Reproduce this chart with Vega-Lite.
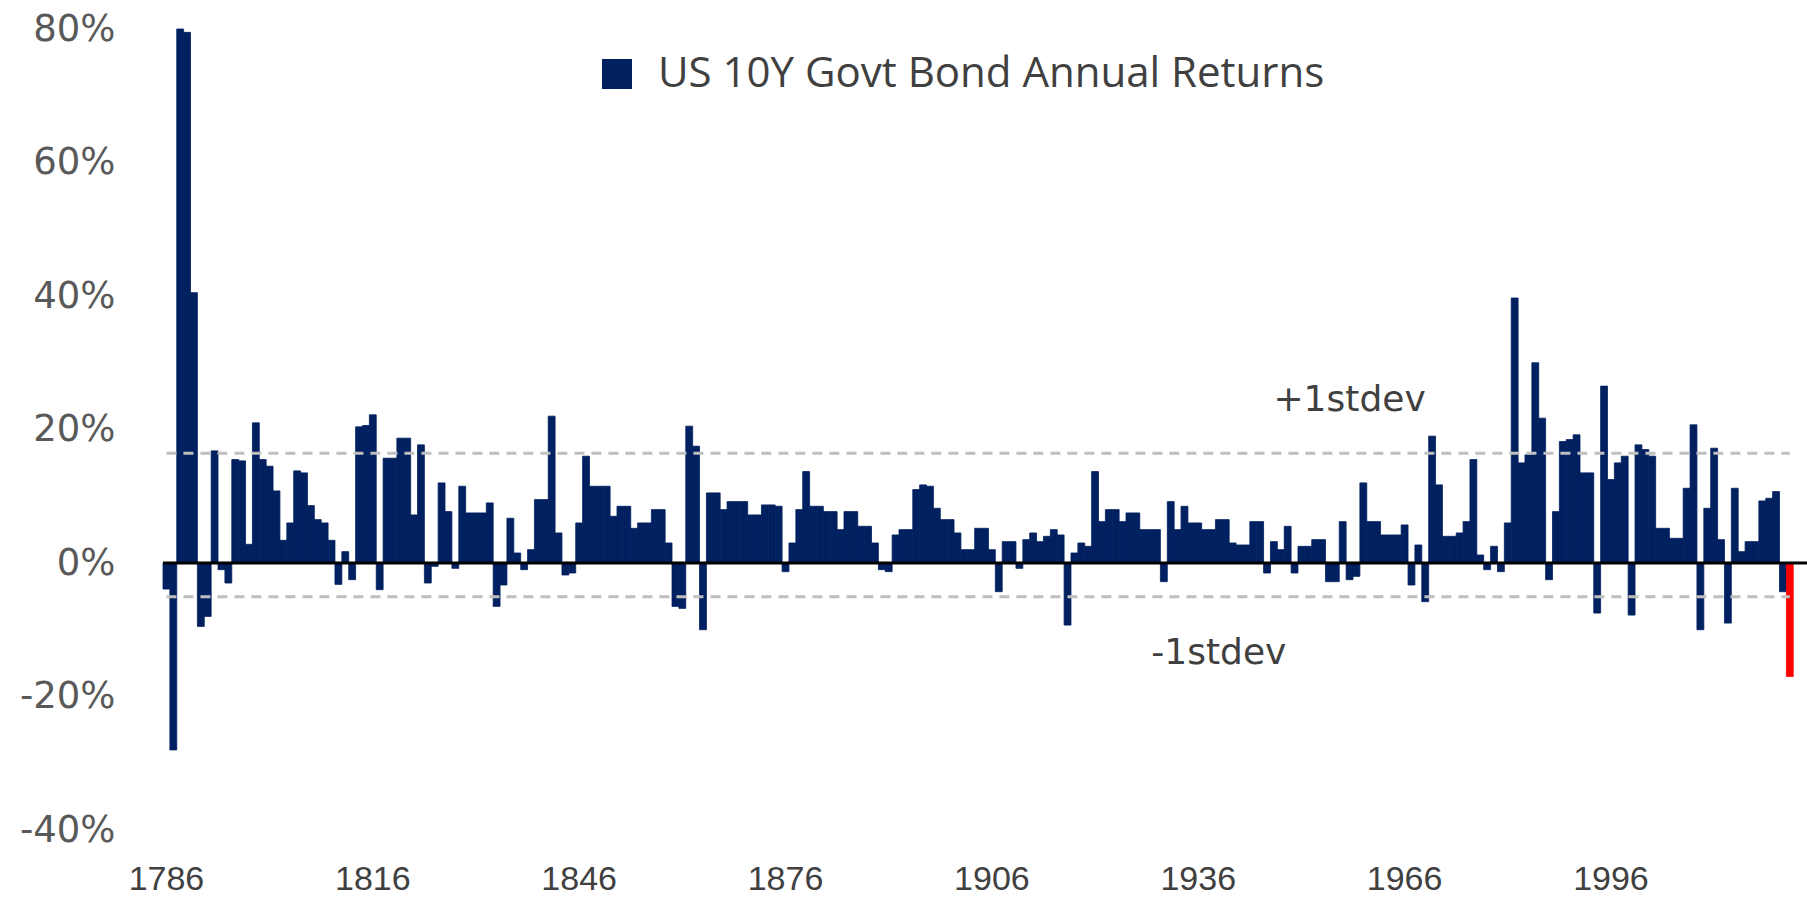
{
  "$schema": "https://vega.github.io/schema/vega-lite/v6.json",
  "width": 1644,
  "height": 801,
  "autosize": {"type": "none"},
  "padding": {"left": 163, "top": 29, "right": 0, "bottom": 69},
  "background": "white",
  "config": {"view": {"stroke": null}, "axis": {"grid": false, "domain": false, "ticks": false}},
  "datasets": {
    "returns": [
      {"year":1786,"ret":-3.9},{"year":1787,"ret":-28},{"year":1788,"ret":80},{"year":1789,"ret":79.5},{"year":1790,"ret":40.5},
      {"year":1791,"ret":-9.5},{"year":1792,"ret":-8},{"year":1793,"ret":16.8},{"year":1794,"ret":-1},{"year":1795,"ret":-3},
      {"year":1796,"ret":15.5},{"year":1797,"ret":15.3},{"year":1798,"ret":2.8},{"year":1799,"ret":21},{"year":1800,"ret":15.5},
      {"year":1801,"ret":14.5},{"year":1802,"ret":10.8},{"year":1803,"ret":3.4},{"year":1804,"ret":6},{"year":1805,"ret":13.8},
      {"year":1806,"ret":13.5},{"year":1807,"ret":8.6},{"year":1808,"ret":6.5},{"year":1809,"ret":6},{"year":1810,"ret":3.4},
      {"year":1811,"ret":-3.2},{"year":1812,"ret":1.7},{"year":1813,"ret":-2.5},{"year":1814,"ret":20.4},{"year":1815,"ret":20.6},
      {"year":1816,"ret":22.2},{"year":1817,"ret":-4},{"year":1818,"ret":15.7},{"year":1819,"ret":15.7},{"year":1820,"ret":18.7},
      {"year":1821,"ret":18.7},{"year":1822,"ret":7.2},{"year":1823,"ret":17.7},{"year":1824,"ret":-3},{"year":1825,"ret":-0.5},
      {"year":1826,"ret":12},{"year":1827,"ret":7.7},{"year":1828,"ret":-0.8},{"year":1829,"ret":11.5},{"year":1830,"ret":7.5},
      {"year":1831,"ret":7.5},{"year":1832,"ret":7.5},{"year":1833,"ret":9},{"year":1834,"ret":-6.5},{"year":1835,"ret":-3.3},
      {"year":1836,"ret":6.7},{"year":1837,"ret":1.5},{"year":1838,"ret":-1},{"year":1839,"ret":2},{"year":1840,"ret":9.5},
      {"year":1841,"ret":9.5},{"year":1842,"ret":22},{"year":1843,"ret":4.5},{"year":1844,"ret":-1.8},{"year":1845,"ret":-1.5},
      {"year":1846,"ret":6},{"year":1847,"ret":16},{"year":1848,"ret":11.5},{"year":1849,"ret":11.5},{"year":1850,"ret":11.5},
      {"year":1851,"ret":7},{"year":1852,"ret":8.5},{"year":1853,"ret":8.5},{"year":1854,"ret":5.2},{"year":1855,"ret":6},
      {"year":1856,"ret":6},{"year":1857,"ret":8},{"year":1858,"ret":8},{"year":1859,"ret":3},{"year":1860,"ret":-6.5},
      {"year":1861,"ret":-6.8},{"year":1862,"ret":20.5},{"year":1863,"ret":17.5},{"year":1864,"ret":-10},{"year":1865,"ret":10.5},
      {"year":1866,"ret":10.5},{"year":1867,"ret":8},{"year":1868,"ret":9.2},{"year":1869,"ret":9.2},{"year":1870,"ret":9.2},
      {"year":1871,"ret":7.2},{"year":1872,"ret":7.2},{"year":1873,"ret":8.7},{"year":1874,"ret":8.7},{"year":1875,"ret":8.5},
      {"year":1876,"ret":-1.3},{"year":1877,"ret":3},{"year":1878,"ret":8},{"year":1879,"ret":13.7},{"year":1880,"ret":8.5},
      {"year":1881,"ret":8.5},{"year":1882,"ret":7.7},{"year":1883,"ret":7.7},{"year":1884,"ret":5},{"year":1885,"ret":7.7},
      {"year":1886,"ret":7.7},{"year":1887,"ret":5.5},{"year":1888,"ret":5.5},{"year":1889,"ret":3},{"year":1890,"ret":-1},
      {"year":1891,"ret":-1.3},{"year":1892,"ret":4.2},{"year":1893,"ret":5},{"year":1894,"ret":5},{"year":1895,"ret":11},
      {"year":1896,"ret":11.7},{"year":1897,"ret":11.5},{"year":1898,"ret":8.2},{"year":1899,"ret":6.5},{"year":1900,"ret":6.5},
      {"year":1901,"ret":4.5},{"year":1902,"ret":2},{"year":1903,"ret":2},{"year":1904,"ret":5.2},{"year":1905,"ret":5.2},
      {"year":1906,"ret":2},{"year":1907,"ret":-4.3},{"year":1908,"ret":3.2},{"year":1909,"ret":3.2},{"year":1910,"ret":-0.8},
      {"year":1911,"ret":3.5},{"year":1912,"ret":4.5},{"year":1913,"ret":3.2},{"year":1914,"ret":4},{"year":1915,"ret":5},
      {"year":1916,"ret":4.2},{"year":1917,"ret":-9.3},{"year":1918,"ret":1.5},{"year":1919,"ret":3},{"year":1920,"ret":2.5},
      {"year":1921,"ret":13.7},{"year":1922,"ret":6.2},{"year":1923,"ret":8},{"year":1924,"ret":8},{"year":1925,"ret":6.2},
      {"year":1926,"ret":7.5},{"year":1927,"ret":7.5},{"year":1928,"ret":5},{"year":1929,"ret":5},{"year":1930,"ret":5},
      {"year":1931,"ret":-2.8},{"year":1932,"ret":9.2},{"year":1933,"ret":5},{"year":1934,"ret":8.5},{"year":1935,"ret":6},
      {"year":1936,"ret":6},{"year":1937,"ret":5},{"year":1938,"ret":5},{"year":1939,"ret":6.5},{"year":1940,"ret":6.5},
      {"year":1941,"ret":3},{"year":1942,"ret":2.7},{"year":1943,"ret":2.7},{"year":1944,"ret":6.2},{"year":1945,"ret":6.2},
      {"year":1946,"ret":-1.5},{"year":1947,"ret":3.2},{"year":1948,"ret":2},{"year":1949,"ret":5.5},{"year":1950,"ret":-1.5},
      {"year":1951,"ret":2.5},{"year":1952,"ret":2.5},{"year":1953,"ret":3.5},{"year":1954,"ret":3.5},{"year":1955,"ret":-2.8},
      {"year":1956,"ret":-2.8},{"year":1957,"ret":6.2},{"year":1958,"ret":-2.5},{"year":1959,"ret":-2},{"year":1960,"ret":12},
      {"year":1961,"ret":6.2},{"year":1962,"ret":6.2},{"year":1963,"ret":4.2},{"year":1964,"ret":4.2},{"year":1965,"ret":4.2},
      {"year":1966,"ret":5.7},{"year":1967,"ret":-3.3},{"year":1968,"ret":2.7},{"year":1969,"ret":-5.8},{"year":1970,"ret":19},
      {"year":1971,"ret":11.7},{"year":1972,"ret":4},{"year":1973,"ret":4},{"year":1974,"ret":4.5},{"year":1975,"ret":6.2},
      {"year":1976,"ret":15.5},{"year":1977,"ret":1.2},{"year":1978,"ret":-1},{"year":1979,"ret":2.5},{"year":1980,"ret":-1.3},
      {"year":1981,"ret":6},{"year":1982,"ret":39.7},{"year":1983,"ret":15},{"year":1984,"ret":16.2},{"year":1985,"ret":30},
      {"year":1986,"ret":21.7},{"year":1987,"ret":-2.5},{"year":1988,"ret":7.7},{"year":1989,"ret":18.2},{"year":1990,"ret":18.5},
      {"year":1991,"ret":19.2},{"year":1992,"ret":13.5},{"year":1993,"ret":13.5},{"year":1994,"ret":-7.5},{"year":1995,"ret":26.5},
      {"year":1996,"ret":12.5},{"year":1997,"ret":15},{"year":1998,"ret":16},{"year":1999,"ret":-7.8},{"year":2000,"ret":17.7},
      {"year":2001,"ret":17},{"year":2002,"ret":16},{"year":2003,"ret":5.2},{"year":2004,"ret":5.2},{"year":2005,"ret":3.7},
      {"year":2006,"ret":3.7},{"year":2007,"ret":11.2},{"year":2008,"ret":20.7},{"year":2009,"ret":-10},{"year":2010,"ret":8.2},
      {"year":2011,"ret":17.2},{"year":2012,"ret":3.5},{"year":2013,"ret":-9},{"year":2014,"ret":11.2},{"year":2015,"ret":1.7},
      {"year":2016,"ret":3.2},{"year":2017,"ret":3.2},{"year":2018,"ret":9.3},{"year":2019,"ret":9.7},{"year":2020,"ret":10.7},
      {"year":2021,"ret":-4.3},{"year":2022,"ret":-17}
    ],
    "bands": [{"name": "+1stdev", "v": 16.45}, {"name": "-1stdev", "v": -5.05}]
  },
  "layer": [
    {
      "data": {"name": "returns"},
      "mark": {"type": "bar", "strokeWidth": 0.8},
      "encoding": {
        "x": {
          "field": "year", "type": "ordinal",
          "scale": {"paddingInner": 0, "paddingOuter": 1.533, "align": 0},
          "axis": {
            "title": null, "values": [1786, 1816, 1846, 1876, 1906, 1936, 1966, 1996],
            "labelAngle": 0, "labelFont": "Liberation Sans", "labelFontSize": 34,
            "labelColor": "#404040", "labelPadding": 32, "labelBaseline": "top", "labelOverlap": false
          }
        },
        "y": {
          "field": "ret", "type": "quantitative",
          "scale": {"domain": [-40, 80], "nice": false},
          "axis": {
            "title": null, "values": [-40, -20, 0, 20, 40, 60, 80],
            "labelExpr": "datum.value + '%'", "labelFont": "DejaVu Sans", "labelFontSize": 37,
            "labelColor": "#595959", "labelPadding": 48
          }
        },
        "color": {
          "condition": {"test": "datum.year === 2022", "value": "#FF0000"},
          "datum": "US 10Y Govt Bond Annual Returns",
          "scale": {"range": ["#002060"]},
          "legend": {
            "title": null, "orient": "none", "legendX": 433, "legendY": 24,
            "symbolType": "square", "symbolSize": 900, "symbolStrokeWidth": 0,
            "labelFont": "Open Sans", "labelFontSize": 42, "labelColor": "#404040",
            "labelOffset": 20, "labelLimit": 2000, "padding": 0
          }
        },
        "stroke": {"condition": {"test": "datum.year === 2022", "value": "#FF0000"}, "value": "#002060"}
      }
    },
    {
      "data": {"name": "bands"},
      "mark": {"type": "rule", "strokeDash": [10, 7], "strokeWidth": 3, "color": "#BFBFBF"},
      "encoding": {
        "y": {"field": "v", "type": "quantitative"},
        "x": {"datum": 1786, "type": "ordinal"},
        "x2": {"datum": 2022}
      }
    },
    {
      "data": {"values": [{}]},
      "mark": {"type": "rule", "strokeWidth": 3, "color": "#000000"},
      "encoding": {"y": {"datum": 0, "type": "quantitative"}}
    },
    {
      "data": {"values": [{}]},
      "mark": {"type": "text", "font": "DejaVu Sans", "fontSize": 36, "color": "#404040", "align": "center", "baseline": "middle"},
      "encoding": {"x": {"datum": 1958, "type": "ordinal"}, "y": {"datum": 24.4, "type": "quantitative"}, "text": {"value": "+1stdev"}}
    },
    {
      "data": {"values": [{}]},
      "mark": {"type": "text", "font": "DejaVu Sans", "fontSize": 36, "color": "#404040", "align": "center", "baseline": "middle"},
      "encoding": {"x": {"datum": 1939, "type": "ordinal"}, "y": {"datum": -13.5, "type": "quantitative"}, "text": {"value": "-1stdev"}}
    }
  ]
}
